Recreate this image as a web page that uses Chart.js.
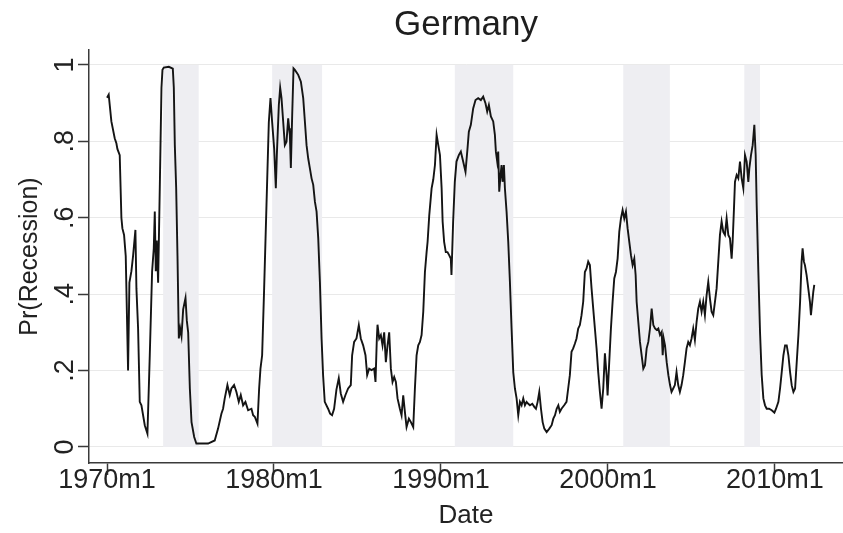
<!DOCTYPE html>
<html>
<head>
<meta charset="utf-8">
<script src="https://cdn.jsdelivr.net/npm/chart.js@4/dist/chart.umd.min.js"></script>
<style>
  html, body { margin: 0; padding: 0; background: #ffffff; }
  #wrap { width: 843px; height: 533px; }
</style>
</head>
<body>
<div id="wrap"><canvas id="c" width="843" height="533"></canvas></div>
<script>
// ---- data (decimal year) ----
const dates = [
  1970.00,1970.10,1970.26,1970.46,1970.56,1970.62,1970.76,1970.86,1970.92,1971.02,1971.12,1971.26,1971.34,1971.46,1971.56,1971.70,1971.76,1971.86,1971.96,1972.06,
  1972.26,1972.42,1972.56,1972.70,1972.80,1972.86,1972.92,1972.98,1973.06,1973.16,1973.26,1973.32,1973.40,1973.70,1973.94,1974.00,1974.06,1974.14,1974.22,1974.30,
  1974.38,1974.46,1974.56,1974.70,1974.78,1974.86,1974.96,1975.06,1975.22,1975.35,1975.70,1976.05,1976.45,1976.65,1976.85,1976.95,1977.05,1977.21,1977.35,1977.45,
  1977.61,1977.75,1977.89,1978.01,1978.15,1978.29,1978.45,1978.65,1978.75,1978.85,1979.01,1979.11,1979.19,1979.29,1979.41,1979.55,1979.69,1979.79,1979.89,1980.01,
  1980.11,1980.17,1980.29,1980.37,1980.45,1980.55,1980.65,1980.75,1980.85,1980.91,1980.95,1981.01,1981.09,1981.17,1981.25,1981.45,1981.61,1981.75,1981.85,1981.95,
  1982.05,1982.15,1982.25,1982.35,1982.45,1982.55,1982.65,1982.75,1982.85,1982.94,1983.04,1983.24,1983.36,1983.48,1983.60,1983.74,1983.88,1984.00,1984.14,1984.28,
  1984.44,1984.60,1984.68,1984.80,1984.94,1985.08,1985.20,1985.34,1985.48,1985.58,1985.70,1985.84,1986.00,1986.08,1986.16,1986.20,1986.30,1986.40,1986.50,1986.60,
  1986.70,1986.80,1986.90,1987.00,1987.10,1987.20,1987.30,1987.40,1987.54,1987.64,1987.74,1987.84,1987.94,1988.08,1988.20,1988.34,1988.44,1988.54,1988.64,1988.74,
  1988.84,1988.94,1989.04,1989.14,1989.20,1989.30,1989.44,1989.54,1989.64,1989.74,1989.84,1989.94,1990.04,1990.10,1990.19,1990.29,1990.39,1990.49,1990.59,1990.63,
  1990.73,1990.83,1990.93,1991.07,1991.19,1991.33,1991.47,1991.59,1991.67,1991.79,1991.93,1992.07,1992.23,1992.39,1992.53,1992.67,1992.77,1992.87,1992.99,1993.13,
  1993.23,1993.29,1993.37,1993.43,1993.49,1993.57,1993.63,1993.69,1993.77,1993.83,1993.93,1994.03,1994.13,1994.23,1994.33,1994.43,1994.53,1994.63,1994.73,1994.83,
  1994.93,1995.03,1995.13,1995.23,1995.33,1995.47,1995.59,1995.69,1995.79,1995.89,1995.99,1996.09,1996.19,1996.33,1996.49,1996.63,1996.73,1996.83,1996.93,1997.03,
  1997.12,1997.22,1997.38,1997.52,1997.62,1997.72,1997.82,1997.92,1998.02,1998.12,1998.22,1998.32,1998.42,1998.52,1998.62,1998.72,1998.82,1998.92,1999.02,1999.12,
  1999.22,1999.32,1999.42,1999.52,1999.62,1999.72,1999.82,1999.92,1999.98,2000.08,2000.18,2000.28,2000.38,2000.48,2000.58,2000.68,2000.78,2000.88,2000.98,2001.08,
  2001.18,2001.28,2001.38,2001.48,2001.58,2001.66,2001.72,2001.82,2001.92,2002.02,2002.12,2002.22,2002.32,2002.42,2002.52,2002.62,2002.72,2002.82,2002.92,2003.02,
  2003.12,2003.22,2003.28,2003.34,2003.42,2003.52,2003.62,2003.72,2003.81,2003.91,2004.01,2004.11,2004.21,2004.31,2004.41,2004.51,2004.61,2004.71,2004.81,2004.91,
  2005.01,2005.11,2005.21,2005.31,2005.41,2005.51,2005.61,2005.71,2005.81,2005.91,2006.01,2006.11,2006.21,2006.31,2006.41,2006.51,2006.61,2006.71,2006.81,2006.91,
  2007.01,2007.11,2007.21,2007.31,2007.41,2007.47,2007.55,2007.61,2007.71,2007.81,2007.91,2008.01,2008.11,2008.21,2008.31,2008.41,2008.47,2008.57,2008.67,2008.77,
  2008.85,2008.91,2009.01,2009.11,2009.21,2009.31,2009.41,2009.51,2009.65,2009.81,2009.97,2010.07,2010.21,2010.31,2010.41,2010.51,2010.61,2010.71,2010.81,2010.91,
  2011.01,2011.11,2011.21,2011.31,2011.41,2011.51,2011.60,2011.66,2011.74,2011.80,2011.90,2012.00,2012.10,2012.16,2012.24,2012.30,2012.36
];
const prRecession = [
  0.914,0.922,0.852,0.808,0.795,0.780,0.764,0.600,0.572,0.555,0.500,0.200,0.430,0.460,0.500,0.568,0.415,0.310,0.118,0.109,
  0.057,0.035,0.240,0.460,0.520,0.616,0.460,0.540,0.430,0.680,0.940,0.987,0.993,0.995,0.990,0.940,0.790,0.680,0.500,0.284,
  0.310,0.290,0.360,0.390,0.330,0.300,0.153,0.065,0.026,0.009,0.009,0.009,0.017,0.048,0.087,0.100,0.127,0.162,0.136,0.153,
  0.162,0.144,0.118,0.136,0.109,0.118,0.096,0.100,0.083,0.079,0.061,0.153,0.205,0.240,0.415,0.633,0.850,0.913,0.850,0.781,
  0.677,0.764,0.895,0.940,0.913,0.852,0.790,0.799,0.860,0.834,0.816,0.730,0.869,0.991,0.987,0.974,0.956,0.913,0.852,0.790,
  0.755,0.729,0.703,0.686,0.642,0.616,0.546,0.432,0.284,0.188,0.118,0.100,0.087,0.083,0.100,0.150,0.180,0.140,0.118,0.136,
  0.153,0.162,0.240,0.275,0.284,0.319,0.284,0.266,0.240,0.188,0.205,0.201,0.205,0.170,0.284,0.320,0.284,0.293,0.266,0.300,
  0.222,0.266,0.300,0.205,0.170,0.183,0.170,0.127,0.100,0.083,0.135,0.092,0.052,0.074,0.065,0.052,0.153,0.240,0.266,0.275,
  0.293,0.354,0.458,0.510,0.537,0.607,0.677,0.700,0.738,0.817,0.790,0.764,0.677,0.590,0.537,0.510,0.510,0.502,0.493,0.450,
  0.590,0.694,0.747,0.764,0.773,0.747,0.720,0.781,0.825,0.843,0.886,0.908,0.913,0.908,0.917,0.899,0.878,0.895,0.865,0.852,
  0.817,0.773,0.747,0.773,0.668,0.712,0.738,0.694,0.738,0.677,0.616,0.537,0.432,0.310,0.196,0.153,0.127,0.083,0.118,0.109,
  0.127,0.109,0.118,0.113,0.109,0.113,0.105,0.100,0.118,0.144,0.100,0.065,0.048,0.039,0.048,0.057,0.074,0.083,0.100,0.109,
  0.092,0.100,0.109,0.118,0.153,0.188,0.249,0.258,0.270,0.284,0.310,0.319,0.345,0.380,0.458,0.467,0.485,0.476,0.415,0.362,
  0.310,0.258,0.196,0.144,0.100,0.153,0.245,0.188,0.135,0.223,0.310,0.380,0.441,0.458,0.493,0.563,0.598,0.620,0.598,0.616,
  0.572,0.537,0.502,0.476,0.493,0.450,0.380,0.327,0.275,0.240,0.205,0.214,0.258,0.275,0.310,0.362,0.319,0.310,0.306,0.310,
  0.293,0.301,0.240,0.284,0.266,0.222,0.188,0.162,0.144,0.153,0.162,0.196,0.162,0.144,0.162,0.188,0.222,0.258,0.275,0.266,
  0.284,0.310,0.280,0.327,0.362,0.380,0.354,0.380,0.345,0.397,0.432,0.389,0.354,0.345,0.380,0.415,0.485,0.555,0.590,0.563,
  0.555,0.598,0.555,0.546,0.493,0.537,0.624,0.694,0.712,0.703,0.747,0.703,0.677,0.764,0.747,0.694,0.729,0.764,0.790,0.843,
  0.764,0.633,0.458,0.301,0.188,0.127,0.109,0.100,0.100,0.096,0.090,0.100,0.118,0.153,0.196,0.240,0.266,0.266,0.240,0.196,
  0.161,0.144,0.153,0.223,0.293,0.380,0.485,0.520,0.485,0.476,0.450,0.415,0.380,0.345,0.380,0.406,0.424
];
const recessionStart = [1973.36, 1979.89, 1990.83, 2000.92, 2008.17];
const recessionEnd   = [1975.49, 1982.88, 1994.33, 2003.71, 2009.11];
const xTicks = [1970, 1980, 1990, 2000, 2010];
const xTickLabels = ['1970m1', '1980m1', '1990m1', '2000m1', '2010m1'];
const yTicks = [0, 0.2, 0.4, 0.6, 0.8, 1];
const yTickLabels = ['0', '.2', '.4', '.6', '.8', '1'];

// ---- chart ----
const FONT = "'Liberation Sans', Arial, Helvetica, sans-serif";
Chart.defaults.font.family = FONT;
Chart.defaults.color = '#222222';

const bandPlugin = {
  id: 'recessionBands',
  beforeDatasetsDraw(chart) {
    const { ctx, scales: { x, y } } = chart;
    const top = y.getPixelForValue(1);
    const bottom = y.getPixelForValue(0);
    ctx.save();
    ctx.fillStyle = '#eeeef2';
    recessionStart.forEach((s, i) => {
      const x0 = x.getPixelForValue(s);
      const x1 = x.getPixelForValue(recessionEnd[i]);
      ctx.fillRect(x0, top, x1 - x0, bottom - top);
    });
    ctx.restore();
  }
};

new Chart(document.getElementById('c'), {
  type: 'line',
  data: {
    datasets: [{
      data: dates.map((d, i) => ({ x: d, y: prRecession[i] })),
      borderColor: '#141414',
      borderWidth: 1.9,
      pointRadius: 0,
      tension: 0,
      fill: false
    }]
  },
  options: {
    responsive: false,
    animation: false,
    devicePixelRatio: 1,
    layout: { padding: { left: 0, right: 0, top: 0, bottom: 0 } },
    plugins: {
      legend: { display: false },
      tooltip: { enabled: false },
      title: {
        display: true,
        text: 'Germany',
        fullSize: false,
        color: '#1e1e1e',
        font: { size: 35, weight: 'normal', family: FONT, lineHeight: 1.2 },
        padding: { top: 4, bottom: 4 }
      }
    },
    scales: {
      x: {
        type: 'linear',
        min: 1968.92,
        max: 2014.08,
        afterFit: s => { s.height = 70; },
        afterBuildTicks: s => { s.ticks = xTicks.map(v => ({ value: v })); },
        ticks: {
          autoSkip: false,
          maxRotation: 0,
          minRotation: 0,
          padding: -8,
          color: '#222222',
          font: { size: 27, lineHeight: 1, family: FONT },
          callback: (v, i) => xTickLabels[i]
        },
        grid: {
          drawOnChartArea: false,
          drawTicks: true,
          tickLength: 12,
          tickColor: '#3a3a3a',
          tickWidth: 1.5
        },
        border: { display: true, color: '#3a3a3a', width: 1.5 },
        title: {
          display: true,
          text: 'Date',
          color: '#222222',
          font: { size: 26, lineHeight: 1.2, family: FONT },
          padding: { top: 0, bottom: 2 }
        }
      },
      y: {
        type: 'linear',
        min: -0.042,
        max: 1.039,
        afterFit: s => { s.width = 89; },
        afterBuildTicks: s => { s.ticks = yTicks.map(v => ({ value: v })); },
        ticks: {
          autoSkip: false,
          minRotation: 90,
          maxRotation: 90,
          crossAlign: 'center',
          padding: 1.25,
          color: '#222222',
          font: { size: 27, lineHeight: 1.2, family: FONT },
          callback: (v, i) => yTickLabels[i]
        },
        grid: {
          drawOnChartArea: true,
          color: '#e9e9e9',
          lineWidth: 1,
          drawTicks: true,
          tickLength: 11,
          tickColor: '#3a3a3a',
          tickWidth: 1.5
        },
        border: { display: true, color: '#3a3a3a', width: 1.5 },
        title: {
          display: true,
          text: 'Pr(Recession)',
          color: '#222222',
          font: { size: 25, lineHeight: 1.2, family: FONT },
          padding: { top: 15, bottom: 0 }
        }
      }
    }
  },
  plugins: [bandPlugin]
});
</script>
</body>
</html>
